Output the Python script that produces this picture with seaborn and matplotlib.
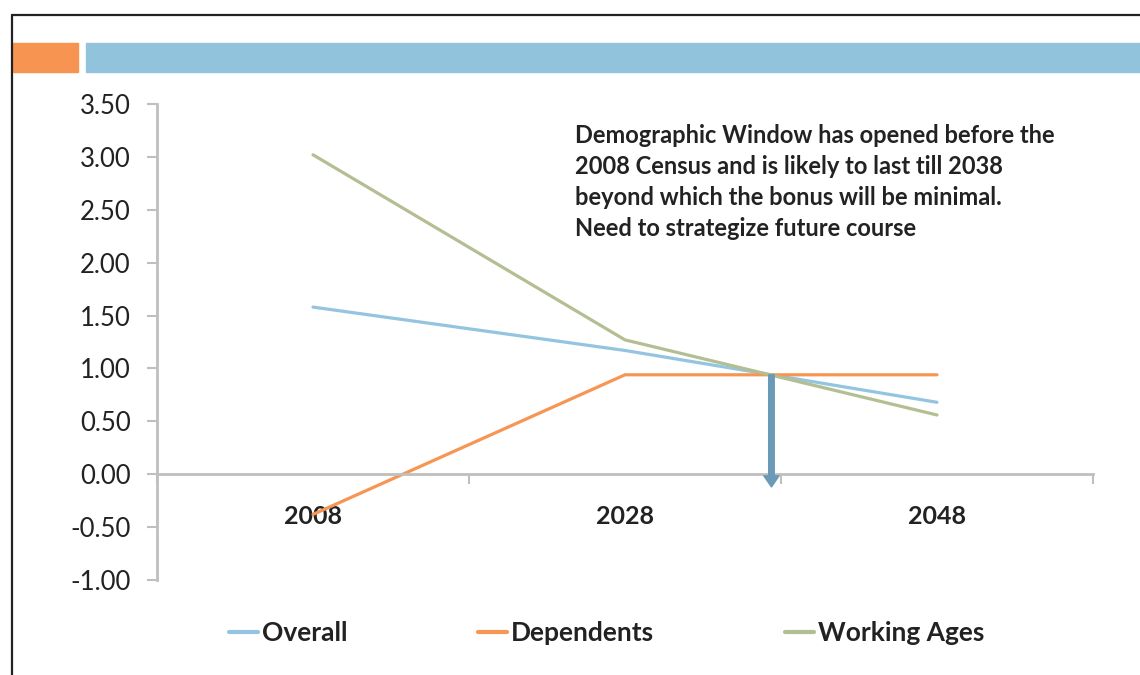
import pandas as pd
import numpy as np
import matplotlib
matplotlib.use("Agg")
import matplotlib.pyplot as plt
import seaborn as sns
from matplotlib.patches import Rectangle
from matplotlib.lines import Line2D

# datos
years = ["2008", "2028", "2048"]
overall = [1.58, 1.17, 0.68]
dependents = [-0.38, 0.94, 0.94]
working_ages = [3.02, 1.27, 0.56]
series_names = ["Overall", "Dependents", "Working Ages"]
y_ticks = [-1.0, -0.5, 0.0, 0.5, 1.0, 1.5, 2.0, 2.5, 3.0, 3.5]
note = ("Demographic Window has opened before the\n"
        "2008 Census and is likely to last till 2038\n"
        "beyond which the bonus will be minimal.\n"
        "Need to strategize future course")

COLORES = ["#93c4e0", "#f79553", "#b3bf92"]
GRIS = "#bfbfbf"
TEXTO = "#222222"

df = pd.DataFrame({
    "Year": years * 3,
    "Value": overall + dependents + working_ages,
    "Serie": [s for s in series_names for _ in years],
})

sns.set_theme(style="white")
plt.rcParams["font.family"] = ["Lato", "DejaVu Sans"]

fig = plt.figure(figsize=(11.4, 6.75), dpi=100)
ax = fig.add_axes([157 / 1140, 1 - 580 / 675, (1093 - 157) / 1140, (580 - 104) / 675])

sns.lineplot(data=df, x="Year", y="Value", hue="Serie", palette=COLORES,
             linewidth=2.3, ax=ax, legend=False, sort=False)

ax.set_xlim(-0.5, 2.5)
ax.set_ylim(-1.0, 3.5)
ax.set_xticks([-0.5, 0.5, 1.5, 2.5], minor=True)
ax.set_yticks(y_ticks)
ax.set_yticklabels([f"{v:.2f}" for v in y_ticks])
ax.set_xticks(range(len(years)))
ax.set_xticklabels(years)
ax.tick_params(axis="x", which="major", length=0, pad=22, labelsize=18, labelcolor=TEXTO)
ax.tick_params(axis="x", which="minor", length=7, width=1.5, color=GRIS, direction="out", bottom=True)
ax.tick_params(axis="y", length=7, width=1.5, color=GRIS, direction="out", left=True, pad=12,
               labelsize=18.5, labelcolor=TEXTO)
ax.set_xlabel("")
ax.set_ylabel("")

for s in ["top", "right"]:
    ax.spines[s].set_visible(False)
ax.spines["bottom"].set_position(("data", 0))
ax.spines["bottom"].set_color(GRIS)
ax.spines["bottom"].set_linewidth(2)
ax.spines["left"].set_color(GRIS)
ax.spines["left"].set_linewidth(2)

# flecha en el cruce Overall / Dependents
t = (overall[1] - dependents[1]) / ((overall[1] - overall[2]) - (dependents[1] - dependents[2]))
x_cruce = 1 + t
ax.annotate("", xy=(x_cruce, -0.12), xytext=(x_cruce, dependents[1]),
            arrowprops=dict(width=4, headwidth=11, headlength=8, color="#6a9ab5", shrink=0))

ax.text(0.4466, 0.958, note, transform=ax.transAxes, fontsize=17, fontweight="bold",
        color=TEXTO, va="top", ha="left", linespacing=1.42)

handles = [Line2D([0], [0], color=c, lw=3) for c in COLORES]
fig.legend(handles, series_names, loc="center", bbox_to_anchor=(0.532, 1 - 633 / 675), ncol=3,
           frameon=False, handlelength=1.1, handletextpad=0.15, columnspacing=4.95,
           prop={"size": 19, "weight": "bold"}, labelcolor=TEXTO)

# marco y barras decorativas de la diapositiva
fig.add_artist(Line2D([12 / 1140, 12 / 1140], [0, 1 - 15 / 675], color=TEXTO, lw=1.6,
                      transform=fig.transFigure))
fig.add_artist(Line2D([12 / 1140, 1], [1 - 15 / 675, 1 - 15 / 675], color=TEXTO, lw=1.6,
                      transform=fig.transFigure))
fig.add_artist(Rectangle((13 / 1140, 1 - 72 / 675), 65 / 1140, 29 / 675, color="#f79452",
                         transform=fig.transFigure))
fig.add_artist(Rectangle((86 / 1140, 1 - 72 / 675), 1054 / 1140, 29 / 675, color="#92c3dc",
                         transform=fig.transFigure))

# etiquetas del eje x en negrita (despues de dibujar, si no se pierden)
fig.canvas.draw()
for lbl in ax.get_xticklabels():
    lbl.set_fontweight("bold")

fig.savefig("out.png", dpi=100)
plt.close()
